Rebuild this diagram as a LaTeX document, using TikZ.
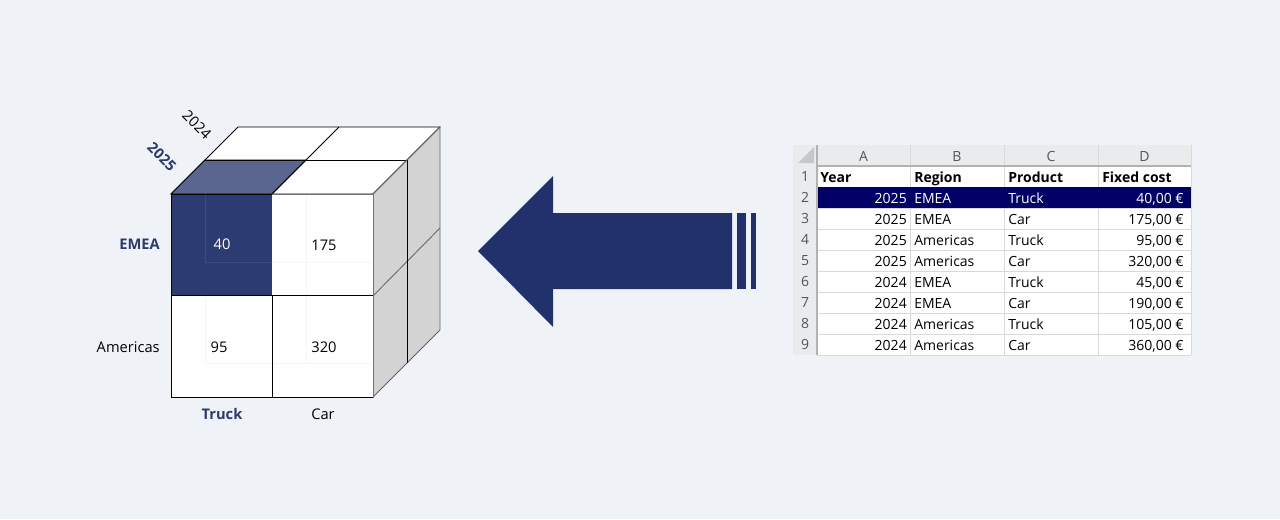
\documentclass[tikz,border=0pt]{standalone}
\usepackage{fontspec}
\setmainfont{Open Sans}
\definecolor{bg}{HTML}{EFF3F7}
\definecolor{navy}{HTML}{22316B}
\definecolor{cellnavy}{HTML}{2D3B73}
\definecolor{topnavy}{HTML}{5A6590}
\definecolor{lblnavy}{HTML}{2D3A6E}
\definecolor{sidegray}{HTML}{D3D3D3}
\definecolor{selrow}{HTML}{000066}
\definecolor{hdrgray}{HTML}{E9EBED}
\definecolor{gridgray}{HTML}{D9D9D9}
\definecolor{hdrtext}{HTML}{555555}
\tikzset{
  edge/.style={draw=black, line width=0.65pt, line join=round},
  softedge/.style={draw=black!55, line width=0.7pt},
  faint/.style={draw=gray, opacity=0.07, line width=0.7pt},
  axlbl/.style={font=\fontsize{11}{13}\selectfont, inner sep=0pt},
  axbold/.style={axlbl, font=\fontsize{11}{13}\selectfont\bfseries, text=lblnavy},
  val/.style={font=\fontsize{11}{13}\selectfont, inner sep=0pt},
  tbl/.style={font=\fontsize{10.5}{12}\selectfont, inner sep=0pt},
  tblhead/.style={tbl, font=\fontsize{10.5}{12}\selectfont\bfseries},
  colhdr/.style={tbl, text=hdrtext},
}
\begin{document}
\begin{tikzpicture}[x=0.75pt,y=-0.75pt]
\useasboundingbox (0,0) rectangle (1280,519);
\fill[bg] (0,0) rectangle (1280,519);

% ---------------- cube ----------------
% top surface
\path[edge, fill=white] (171,194) -- (238,127) -- (440,127) -- (373,194) -- cycle;
\path[fill=topnavy, draw=black, line width=0.65pt] (171,194) -- (205,160) -- (306,160) -- (272,194) -- cycle;
\draw[edge] (205,160) -- (407,160);
\draw[edge] (272,194) -- (339,127);
% right side
\path[fill=sidegray, draw=black!60, line width=0.65pt] (373,194) -- (440,127) -- (440,330) -- (373,397) -- cycle;
\draw[black!60, line width=0.65pt] (373,296) -- (440,228);
\draw[edge] (407,160) -- (407,363);
\draw[black!60, line width=0.65pt] (373,194) -- (440,127);
% front faces
\node[fill=cellnavy, draw=black, line width=0.7pt, minimum width=101*0.75pt, minimum height=101*0.75pt, inner sep=0pt, anchor=north west] (c11) at (171,194) {};
\node[fill=white, draw=black, line width=0.7pt, minimum width=101*0.75pt, minimum height=102*0.75pt, inner sep=0pt, anchor=north west] (c21) at (171,295) {};
\node[fill=white, draw=black, line width=0.7pt, minimum width=101*0.75pt, minimum height=102*0.75pt, inner sep=0pt, anchor=north west] (c22) at (272,295) {};
\node[fill=white, inner sep=0pt, minimum width=101*0.75pt, minimum height=101*0.75pt, anchor=north west] (c12) at (272,194) {};
\draw[softedge] (c12.north west) -- (c12.north east) -- (c12.south east);
\draw[softedge] (c22.north east) -- (c22.south east);
% faint inner cubes seen through
\draw[faint] (205,295) -- (205,363) (306,194) -- (306,363);
\draw[faint] (272,262) -- (373,262) (205,363) -- (373,363);
\draw[draw=white, opacity=0.08, line width=0.7pt] (205,194) -- (205,262) -- (272,262);
% values
\node[val, text=white] (v40) at (222,244) {40};
\node[val] (v175) at (324,245) {175};
\node[val] (v95) at (219,347) {95};
\node[val] (v320) at (324,347) {320};
% axis labels
\node[axbold, anchor=east] (emea) at (160,244) {EMEA};
\node[axlbl, anchor=east] (amer) at (160,347) {Americas};
\node[axbold] (truck) at (222,414) {Truck};
\node[axlbl] (car) at (323,414) {Car};
\node[axlbl, rotate=-45] (y24) at (197,125) {2024};
\node[axbold, rotate=-45] (y25) at (162,157) {2025};

% ---------------- arrow ----------------
\fill[navy] (478,251) -- (553,176) -- (553,213) -- (732,213) -- (732,289) -- (553,289) -- (553,327) -- cycle;
\fill[navy] (736.5,213) rectangle (746,289);
\fill[navy] (751,213) rectangle (756,289);

% ---------------- table ----------------
\fill[hdrgray] (793,145) rectangle (1191,166);
\fill[hdrgray] (793,166) rectangle (817,355);
\fill[white] (817,166) rectangle (1191,355);
\fill[black!22] (814,147) -- (814,163) -- (798,163) -- cycle;
% grid
\foreach \y in {187,208,229,250,271,292,313,334,355} {
  \draw[gridgray, line width=0.6pt] (817,\y) -- (1191,\y);
}
\foreach \x in {910,1004,1098,1191} {
  \draw[gridgray, line width=0.6pt] (\x,145) -- (\x,355);
}
\fill[selrow] (817,187) rectangle (1191,208.4);
\draw[black!30, line width=0.8pt] (817,166) -- (1191,166);
\draw[black!30, line width=0.8pt] (817,145) -- (817,355);
% column letters
\node[colhdr] (hA) at (863.5,156) {A};
\node[colhdr] (hB) at (957,156) {B};
\node[colhdr] (hC) at (1051,156) {C};
\node[colhdr] (hD) at (1144.5,156) {D};
% row numbers
\foreach \n [count=\i from 0] in {1,...,9} {
  \node[colhdr] (r\n) at (805,{176.5+21*\i}) {\n};
}
% header row
\node[tblhead, anchor=base west] (tYear) at (820,182) {Year};
\node[tblhead, anchor=base west] (tRegion) at (914,182) {Region};
\node[tblhead, anchor=base west] (tProduct) at (1008,182) {Product};
\node[tblhead, anchor=base west] (tCost) at (1102,182) {Fixed cost};
% data rows
\foreach \yr/\rg/\pr/\co [count=\i from 1] in {
  2025/EMEA/Truck/{40,00 €},
  2025/EMEA/Car/{175,00 €},
  2025/Americas/Truck/{95,00 €},
  2025/Americas/Car/{320,00 €},
  2024/EMEA/Truck/{45,00 €},
  2024/EMEA/Car/{190,00 €},
  2024/Americas/Truck/{105,00 €},
  2024/Americas/Car/{360,00 €}} {
  \ifnum\i=1 \def\tc{white}\else\def\tc{black}\fi
  \node[tbl, text=\tc, anchor=base east] (y\i) at (907,{182+21*\i}) {\yr};
  \node[tbl, text=\tc, anchor=base west] (g\i) at (914,{182+21*\i}) {\rg};
  \node[tbl, text=\tc, anchor=base west] (p\i) at (1008,{182+21*\i}) {\pr};
  \node[tbl, text=\tc, anchor=base east] (f\i) at (1184,{182+21*\i}) {\co};
}
\end{tikzpicture}
\end{document}
